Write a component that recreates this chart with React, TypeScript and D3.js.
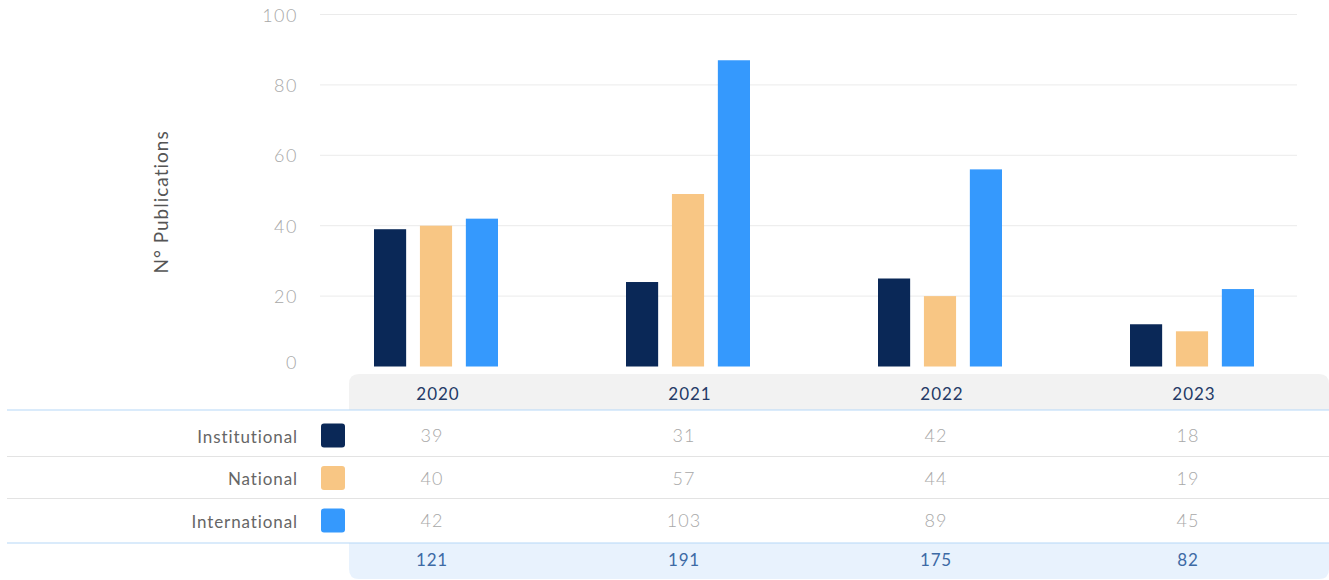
import React from "react";
import * as d3 from "d3";

const years = ["2020", "2021", "2022", "2023"];
const series = ["Institutional", "National", "International"];
const colors = ["#0a2857", "#f8c684", "#3599fd"];
const barInstitutional = [39, 24, 25, 12];
const barNational = [40, 49, 20, 10];
const barInternational = [42, 87, 56, 22];
const tableInstitutional = [39, 31, 42, 18];
const tableNational = [40, 57, 44, 19];
const tableInternational = [42, 103, 89, 45];
const totals = [121, 191, 175, 82];
const yTicks = [0, 20, 40, 60, 80, 100];

const W = 1329;
const H = 580;
const FONT = "Lato, 'Open Sans', sans-serif";

export default function App() {
  const bars = [barInstitutional, barNational, barInternational];
  const table = [tableInstitutional, tableNational, tableInternational];
  const y = d3.scaleLinear().domain([0, 100]).range([366.5, 14.5]);
  const x0 = d3.scalePoint<string>().domain(years).range([436, 1192]);
  const x1 = d3.scaleBand<string>().domain(series).range([-62, 62]).paddingInner(0.3);
  const rowY = d3.scalePoint<string>().domain(series).range([435, 520]);

  const tableLeft = 349;
  const headerTop = 374;
  const headerBottom = 410;
  const totalTop = 543;
  const totalBottom = 579;
  const r = 10;

  return (
    <svg width={W} height={H} style={{ position: "absolute", left: 0, top: 0 }} fontFamily={FONT}>
      <rect width={W} height={H} fill="#fff" />
      {/* grid */}
      {yTicks.slice(1).map((t) => (
        <line key={t} x1={320} x2={1297} y1={y(t)} y2={y(t)} stroke="#ebebeb" strokeWidth={1} />
      ))}
      {yTicks.map((t) => (
        <text key={t} x={298} y={t === 0 ? y(t) - 5 : y(t)} textAnchor="end" dominantBaseline="central"
          fontSize={18} fontWeight={300} letterSpacing={1.5} fill="#a8a8a8">{t}</text>
      ))}
      <text transform={`translate(160,${202}) rotate(-90)`} textAnchor="middle" dominantBaseline="central"
        fontSize={19} fill="#555" fontWeight={400} letterSpacing={1}>N° Publications</text>

      {/* bars */}
      {years.map((yr, i) => (
        <g key={yr} transform={`translate(${x0(yr)},0)`}>
          {series.map((s, j) => (
            <rect key={s} x={x1(s)} y={y(bars[j][i])} width={x1.bandwidth()}
              height={y(0) - y(bars[j][i])} fill={colors[j]} />
          ))}
        </g>
      ))}

      {/* table header */}
      <path d={`M${tableLeft},${headerBottom} V${headerTop + r} Q${tableLeft},${headerTop} ${tableLeft + r},${headerTop} H${W - r} Q${W},${headerTop} ${W},${headerTop + r} V${headerBottom} Z`} fill="#f2f2f2" />
      {years.map((yr) => (
        <text key={yr} x={(x0(yr) as number) + 2} y={393} textAnchor="middle" dominantBaseline="central"
          fontSize={17} letterSpacing={1} fill="#243a66">{yr}</text>
      ))}
      {/* total row */}
      <path d={`M${tableLeft},${totalTop} H${W} V${totalBottom - r} Q${W},${totalBottom} ${W - r},${totalBottom} H${tableLeft + r} Q${tableLeft},${totalBottom} ${tableLeft},${totalBottom - r} Z`} fill="#e8f2fd" />
      {years.map((yr, i) => (
        <text key={yr} x={(x0(yr) as number) - 4} y={559} textAnchor="middle" dominantBaseline="central"
          fontSize={17} letterSpacing={0.8} fill="#3d6aa5">{totals[i]}</text>
      ))}
      {/* lines */}
      <line x1={7} x2={W} y1={headerBottom} y2={headerBottom} stroke="#b5d8f8" strokeWidth={1.2} />
      <line x1={7} x2={W} y1={456.5} y2={456.5} stroke="#e3e3e3" strokeWidth={1} />
      <line x1={7} x2={W} y1={498.5} y2={498.5} stroke="#e3e3e3" strokeWidth={1} />
      <line x1={7} x2={W} y1={totalTop} y2={totalTop} stroke="#b5d8f8" strokeWidth={1.2} />

      {/* rows */}
      {series.map((s, j) => (
        <g key={s}>
          <text x={298} y={(rowY(s) as number) + 1} textAnchor="end" dominantBaseline="central" fontSize={17}
            letterSpacing={0.9} fill="#666">{s}</text>
          <rect x={321} y={(rowY(s) as number) - 11.5} width={24} height={24} rx={3} fill={colors[j]} />
          {years.map((yr, i) => (
            <text key={yr} x={(x0(yr) as number) - 4} y={rowY(s) as number} textAnchor="middle"
              dominantBaseline="central" fontSize={18} fontWeight={300} letterSpacing={1} fill="#a8a8a8">{table[j][i]}</text>
          ))}
        </g>
      ))}
    </svg>
  );
}
